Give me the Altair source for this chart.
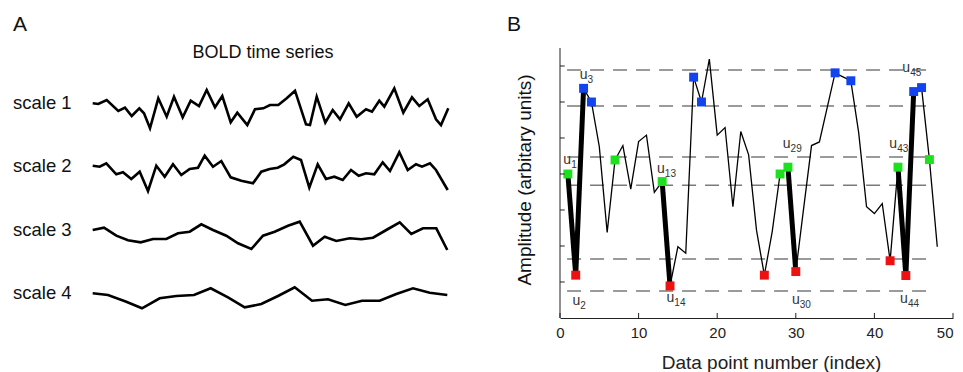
import altair as alt
import pandas as pd

FONT = "Liberation Sans"

# ---------------- Panel A data (time in arbitrary steps, amplitude in arbitrary units) ----
s1_t = [0, 5.6, 14, 25.6, 32.3, 39, 46.6, 51.3, 57.3, 65.6, 74, 81.3, 90, 98, 106.3, 114, 122.3,
        129.6, 138, 144.6, 154.6, 162.3, 170.6, 177.3, 185.6, 194, 202.3, 213.3, 217.3, 224,
        232.6, 240, 247.3, 256, 264, 273.3, 279.3, 286.6, 291.6, 301.6, 310.6, 319.3, 326.6,
        335, 343.3, 348.3, 355.6]
s1_a = [0, -0.7, 3.3, -7.7, -4.4, -12.7, -5, -10, -25, 5, -13.4, 6.6, -14, 2.6, -2.7, 13.3, -4,
        7.3, -19, -9.4, -21.7, -6, -5, -1.7, -1.7, 5, 12.6, -21, -21.7, 6.6,
        -19.4, -6.7, -16, 0, -13.4, -6, -8.4, 2.6, -3.4, 15, -9.4, 6, -2.7,
        4, -16, -21.7, -5]

s2_t = [0, 7, 13.6, 23.6, 30.3, 38.6, 47, 55.3, 63.6, 72, 80.3, 88.6, 97, 105.3, 112, 120.3,
        128.6, 138, 148.6, 160.3, 168.6, 177, 185, 191.6, 200.6, 208.3, 216.6, 225, 233.3,
        241.6, 250, 258.3, 266, 273.3, 281.6, 290, 297.3, 306.6, 315, 323.3, 329.3, 337.3,
        343.3, 355]
s2_a = [0.3, -0.7, 2.7, -8.3, -6.3, -13, -5.7, -25, 0.3, -10.7, 1.7, -9, -3, -1.7, 10.3, -0.7,
        5, -11.3, -14.7, -17.3, -5.7, -3, -1.7, 1.7, 9.3, 6, -21.7, 1.7, -13,
        -10.7, -14, -4, -9.7, -7.3, -8.3, 3.7, -5, 13.7, -4, 1.7, -0.7, 2.7,
        -4, -24]

s3_t = [0, 11.3, 23.6, 35.3, 48, 60.3, 73.6, 85.3, 97, 108.6, 120.3, 133.6, 145.3, 158.6, 170.3,
        182, 195.3, 207, 220.3, 232, 243.6, 257, 268.6, 280.3, 293.6, 307, 318.6, 330.3,
        343.6, 354.6]
s3_a = [0, 2.3, -5.7, -10.3, -12.3, -9, -9, -3.3, -1.7, 5.7, 0, -5.7, -13.3, -19, -5.7,
        -1.7, 4.3, 8.3, -15.7, -6.7, -11, -8.3, -9.3, -7.7, 0, 7.7, -4, 1.7,
        1.7, -20]

s4_t = [0, 15.3, 33.6, 49.3, 67, 83.6, 101.3, 118, 135.3, 152, 168.6, 185.3, 202, 219.3, 235.3,
        252.6, 269.3, 287, 303.6, 320.3, 337, 354.6]
s4_a = [0, -1.7, -8.4, -15, -5, -2.7, -1.7, 5, -4, -14, -10.7, -2.7, 6, -7.4, -6,
        -11.7, -7.4, -7.4, -0.7, 5, 0.6, -1.7]

scale_names = ["scale 1", "scale 2", "scale 3", "scale 4"]
row_offset = [214.7, 152, 88, 24.7]

# ---------------- Panel B data ----------------
idx_B = list(range(1, 49))
amp_B = [4.0, 1.19, 6.38, 6.0, 4.76, 2.38, 4.39, 4.79, 3.58, 4.9, 5.08, 3.49, 3.79, 0.89,
         1.98, 1.8, 6.69, 6.0, 7.19, 5.08, 5.29, 3.09, 5.18, 4.53, 2.44, 1.19, 2.4, 4.0,
         4.19, 1.29, 3.05, 4.79, 4.89, 5.85, 6.81, 6.7, 6.59, 5.15, 3.09, 2.9, 3.18, 1.59,
         4.19, 1.18, 6.29, 6.4, 4.4, 1.98]
levels = [6.89, 5.89, 4.47, 3.69, 1.64, 0.75]
level_span = [0.9, 47.3]
green_idx = [1, 7, 13, 28, 29, 43, 47]
red_idx = [2, 14, 26, 30, 42, 44]
blue_idx = [3, 4, 17, 18, 35, 37, 45, 46]
thick_segments = [(1, 2), (2, 3), (13, 14), (29, 30), (43, 44), (44, 45)]
u_sub = ["1", "2", "3", "13", "14", "29", "30", "43", "44", "45"]
u_x = [0.92, 2.08, 3.0, 12.83, 14.04, 28.83, 30.0, 42.4, 43.75, 44.04]
u_y = [4.39, 0.48, 6.75, 4.13, 0.56, 4.82, 0.5, 4.82, 0.52, 6.94]
x_ticks = [0, 10, 20, 30, 40, 50]
y_ticks = [1, 2, 3, 4, 5, 6, 7]
y_axis_top = 7.5

# ---------------- Panel A ----------------
rowsA = []
for name, off, ts, amps in zip(scale_names, row_offset, [s1_t, s2_t, s3_t, s4_t],
                               [s1_a, s2_a, s3_a, s4_a]):
    for t, a in zip(ts, amps):
        rowsA.append({"scale": name, "t": t, "y": off + a})
dfA = pd.DataFrame(rowsA)
dfLab = pd.DataFrame({"label": scale_names, "y": row_offset})

xA = alt.Scale(domain=[0, 355.6], range=[79.7, 435.3], nice=False, zero=False)
yA = alt.Scale(domain=[0, 310], nice=False, zero=False)

linesA = alt.Chart(dfA).mark_line(color="black", strokeWidth=2.6).encode(
    x=alt.X("t:Q", scale=xA, axis=None),
    y=alt.Y("y:Q", scale=yA, axis=None),
    detail="scale:N",
    order="t:Q",
)
labelsA = alt.Chart(dfLab).mark_text(
    align="left", baseline="middle", fontSize=18.5, font=FONT, color="#111"
).encode(x=alt.value(0), y=alt.Y("y:Q", scale=yA, axis=None), text="label:N")


def note(txt, x, y, size, align="left", angle=0):
    return alt.Chart(pd.DataFrame({"txt": [txt]})).mark_text(
        align=align, baseline="middle", fontSize=size, font=FONT, color="#111", angle=angle
    ).encode(x=alt.value(x), y=alt.value(y), text="txt:N")


headA = note("BOLD time series", 250, 45, 18, align="center")
letterA = note("A", 0, 16.5, 21)
letterB = note("B", 494, 17, 21)
ytitleB = note("Amplitude (arbitary units)", 512, 172, 19, align="center", angle=270)

panelA = alt.layer(linesA, labelsA, headA, letterA, letterB, ytitleB).properties(
    width=547, height=310
)

# ---------------- Panel B ----------------
dfB = pd.DataFrame({"i": idx_B, "amp": amp_B})
amp_of = dict(zip(idx_B, amp_B))
seg_rows = []
for k, (a, b) in enumerate(thick_segments):
    seg_rows.append({"seg": k, "i": a, "amp": amp_of[a]})
    seg_rows.append({"seg": k, "i": b, "amp": amp_of[b]})
dfSeg = pd.DataFrame(seg_rows)
sq_rows = ([{"i": i, "amp": amp_of[i], "kind": "g"} for i in green_idx]
           + [{"i": i, "amp": amp_of[i], "kind": "r"} for i in red_idx]
           + [{"i": i, "amp": amp_of[i], "kind": "b"} for i in blue_idx])
dfSq = pd.DataFrame(sq_rows)
dfLev = pd.DataFrame({"lev": levels, "x0": level_span[0], "x1": level_span[1]})
dfU = pd.DataFrame({"x": u_x, "y": u_y, "sub": u_sub})
dfYT = pd.DataFrame({"v": y_ticks, "x0": 0, "x1": 0.6})
dfXT = pd.DataFrame({"v": x_ticks, "y0": 0, "y1": 0.14})
dfYL = pd.DataFrame({"x": [0], "y0": [0], "y1": [y_axis_top]})

xB = alt.Scale(domain=[0, 50], nice=False, zero=False)
yB = alt.Scale(domain=[0, 8.611], nice=False, zero=False)

x_axis = alt.Axis(values=x_ticks, grid=False, ticks=False, tickSize=0, labelFontSize=15,
                  labelFont=FONT, labelColor="#222", labelPadding=7, domainColor="#222",
                  labelAlign=alt.condition("datum.value == 50", alt.value("right"),
                                           alt.value("center")),
                  title="Data point number (index)", titleFont=FONT, titleFontSize=19,
                  titleFontWeight="normal", titleColor="#222", titlePadding=13, titleX=211)

levB = alt.Chart(dfLev).mark_rule(color="#7a7a7a", strokeWidth=1.5, strokeDash=[14, 9]).encode(
    x=alt.X("x0:Q", scale=xB, axis=x_axis), x2="x1:Q",
    y=alt.Y("lev:Q", scale=yB, axis=None),
)
yLineB = alt.Chart(dfYL).mark_rule(color="#222", strokeWidth=1).encode(
    x=alt.X("x:Q", scale=xB), y=alt.Y("y0:Q", scale=yB), y2="y1:Q"
)
lineB = alt.Chart(dfB).mark_line(color="black", strokeWidth=1.3).encode(
    x=alt.X("i:Q", scale=xB), y=alt.Y("amp:Q", scale=yB)
)
thickB = alt.Chart(dfSeg).mark_line(color="black", strokeWidth=5).encode(
    x=alt.X("i:Q", scale=xB), y=alt.Y("amp:Q", scale=yB), detail="seg:N"
)
sqB = alt.Chart(dfSq).mark_square(size=80, opacity=1).encode(
    x=alt.X("i:Q", scale=xB), y=alt.Y("amp:Q", scale=yB),
    color=alt.Color("kind:N", scale=alt.Scale(domain=["g", "r", "b"],
                                              range=["#1ee01e", "#ee1111", "#1144ee"]),
                    legend=None),
)
uB = alt.Chart(dfU).mark_text(align="center", baseline="middle", fontSize=14, font=FONT,
                              color="#333").encode(
    x=alt.X("x:Q", scale=xB), y=alt.Y("y:Q", scale=yB), text=alt.value("u")
)
subB = alt.Chart(dfU).mark_text(align="left", baseline="middle", fontSize=10, font=FONT,
                                color="#333", dx=4, dy=5).encode(
    x=alt.X("x:Q", scale=xB), y=alt.Y("y:Q", scale=yB), text="sub:N"
)
ytB = alt.Chart(dfYT).mark_rule(color="#222", strokeWidth=1).encode(
    x=alt.X("x0:Q", scale=xB), x2="x1:Q", y=alt.Y("v:Q", scale=yB)
)
xtB = alt.Chart(dfXT).mark_rule(color="#222", strokeWidth=1).encode(
    x=alt.X("v:Q", scale=xB), y=alt.Y("y0:Q", scale=yB), y2="y1:Q"
)

panelB = alt.layer(levB, yLineB, lineB, thickB, sqB, uB, subB, ytB, xtB).properties(
    width=393, height=310
)

chart = alt.hconcat(panelA, panelB, spacing=0, bounds="flush").configure_view(
    strokeWidth=0
).properties(padding={"left": 5, "top": 0, "right": 0, "bottom": 0})
chart.save("out.html", embed_options={"renderer": "svg", "actions": False})
